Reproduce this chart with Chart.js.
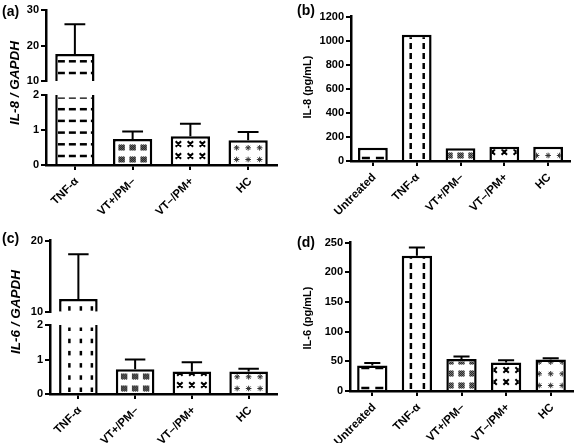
<!DOCTYPE html>
<html>
<head>
<meta charset="utf-8">
<script src="https://cdn.jsdelivr.net/npm/chart.js@4.4.1/dist/chart.umd.min.js"></script>
<style>
  body { margin: 0; background: #fff; }
  #wrap { position: relative; width: 576px; height: 443px; overflow: hidden; }
  canvas { position: absolute; }
  .tag { position: absolute; font: bold 14px "Liberation Sans", Arial, sans-serif; color: #000; line-height: 16px; }
  .xlab { position: absolute; font: bold 11.5px "Liberation Sans", Arial, sans-serif; color: #000; line-height: 14px;
          white-space: nowrap; transform-origin: 100% 50%; transform: rotate(-45deg); }
</style>
</head>
<body>
<div id="wrap">
  <canvas id="chartA" width="290" height="222" style="left:0;top:0"></canvas>
  <canvas id="chartB" width="286" height="222" style="left:290px;top:0"></canvas>
  <canvas id="chartC" width="290" height="221" style="left:0;top:222px"></canvas>
  <canvas id="chartD" width="286" height="221" style="left:290px;top:222px"></canvas>
  <div class="tag" style="left:2px;top:3px">(a)</div>
  <div class="tag" style="left:297px;top:2px">(b)</div>
  <div class="tag" style="left:2px;top:230px">(c)</div>
  <div class="tag" style="left:297px;top:234px">(d)</div>
</div>
<script>
// categories
const qpcrCats = ['TNF-α', 'VT+/PM–', 'VT–/PM+', 'HC'];
const elisaCats = ['Untreated', 'TNF-α', 'VT+/PM–', 'VT–/PM+', 'HC'];

// (a) IL-8 / GAPDH
const il8Mrna = [17.6, 0.74, 0.82, 0.71];
const il8MrnaErr = [26, 0.96, 1.18, 0.94];
const il8MrnaTicksLow = [0, 1, 2];
const il8MrnaTicksHigh = [10, 20, 30];

// (b) IL-8 pg/mL
const il8Protein = [111, 1050, 105, 119, 119];
const il8ProteinTicks = [0, 200, 400, 600, 800, 1000, 1200];

// (c) IL-6 / GAPDH
const il6Mrna = [11.8, 0.72, 0.65, 0.65];
const il6MrnaErr = [18.1, 1.0, 0.92, 0.73];
const il6MrnaTicksLow = [0, 1, 2];
const il6MrnaTicksHigh = [10, 20];

// (d) IL-6 pg/mL
const il6Protein = [43, 228, 54, 48, 53];
const il6ProteinErr = [47, 242, 58, 52, 55];
const il6ProteinTicks = [0, 50, 100, 150, 200, 250];

const FONT = '"Liberation Sans", Arial, sans-serif';
const tickFont = { family: FONT, size: 11, weight: 'bold' };
const BW = 2.5;

// fill marks inside a bar, anchored on the bar base
function drawMarks(ctx, kind, cx, top, bottom) {
    ctx.fillStyle = '#000';
    ctx.strokeStyle = '#000';
    if (kind === 'hdash') {
        for (let yy = bottom - 8; yy > top - 3; yy -= 11.7)
            for (let xx = cx - 17; xx < cx + 20; xx += 11) ctx.fillRect(xx, yy - 1.25, 7, 2.5);
    } else if (kind === 'hdash2') {
        for (let yy = bottom - 2; yy > top - 3; yy -= 20) {
            ctx.fillRect(cx - 11, yy - 1.25, 8, 2.5);
            ctx.fillRect(cx + 3, yy - 1.25, 8, 2.5);
        }
    } else if (kind === 'vdash') {
        [cx - 6, cx + 7].forEach(xx => {
            for (let yy = bottom - 1; yy > top; yy -= 10) ctx.fillRect(xx - 1.25, yy - 6, 2.5, 6);
        });
    } else if (kind === 'vshort') {
        [cx - 9, cx + 2.5, cx + 13.5].forEach(xx => {
            for (let yy = bottom - 1; yy > top; yy -= 12.2) ctx.fillRect(xx - 1.25, yy - 4.5, 2.5, 4.5);
        });
    } else if (kind === 'hatch') {
        for (let yy = bottom - 4.5; yy > top - 4; yy -= 12) {
            for (const xx of [cx - 11, cx, cx + 11]) {
                ctx.save();
                ctx.beginPath();
                ctx.rect(xx - 3.2, yy - 3.2, 6.4, 6.4);
                ctx.clip();
                ctx.lineWidth = 1.1;
                ctx.strokeStyle = '#222';
                ctx.beginPath();
                for (let d = -7; d <= 7; d += 2) {
                    ctx.moveTo(xx - 3.2 + d, yy + 3.2);
                    ctx.lineTo(xx + 3.2 + d, yy - 3.2);
                }
                ctx.stroke();
                ctx.restore();
            }
        }
    } else if (kind === 'cross') {
        ctx.lineWidth = 2;
        ctx.beginPath();
        for (let yy = bottom - 8; yy > top - 3; yy -= 12) {
            for (const xx of [cx - 12, cx, cx + 12]) {
                ctx.moveTo(xx - 2.7, yy - 2.7); ctx.lineTo(xx + 2.7, yy + 2.7);
                ctx.moveTo(xx + 2.7, yy - 2.7); ctx.lineTo(xx - 2.7, yy + 2.7);
            }
        }
        ctx.stroke();
    } else if (kind === 'star') {
        ctx.lineWidth = 1;
        ctx.strokeStyle = '#333';
        ctx.beginPath();
        for (let yy = bottom - 4.5; yy > top - 3; yy -= 11.7) {
            for (const xx of [cx - 11.5, cx, cx + 11.5]) {
                for (let k = 0; k < 4; k++) {
                    const a = k * Math.PI / 4;
                    ctx.moveTo(xx - 2.8 * Math.cos(a), yy - 2.8 * Math.sin(a));
                    ctx.lineTo(xx + 2.8 * Math.cos(a), yy + 2.8 * Math.sin(a));
                }
            }
        }
        ctx.stroke();
    }
}

// patterns and error bars on top of the bars
const barDecor = {
    id: 'barDecor',
    afterDatasetsDraw(chart, args, opts) {
        const ctx = chart.ctx;
        chart.data.datasets.forEach((ds, di) => {
            const meta = chart.getDatasetMeta(di);
            meta.data.forEach((bar, i) => {
                if (ds.data[i] == null) return;
                const { x, y, base, width } = bar.getProps(['x', 'y', 'base', 'width'], true);
                const top = Math.min(y, base), bottom = Math.max(y, base);
                ctx.save();
                ctx.beginPath();
                ctx.rect(x - width / 2 + BW, top + BW, width - 2 * BW, bottom - top - BW);
                ctx.clip();
                drawMarks(ctx, opts.patterns[i], x, top, bottom);
                ctx.restore();
            });
        });

        if (!opts.errs) return;
        const low = chart.scales.yLo || chart.scales.y;
        const pix = v => (chart.scales.yHi && v > opts.lowMax ? chart.scales.yHi : low).getPixelForValue(v);
        const bars = chart.getDatasetMeta(0).data;
        ctx.save();
        ctx.strokeStyle = '#000';
        ctx.lineWidth = 2;
        opts.errs.forEach((e, i) => {
            const bar = bars[i];
            const w = bar.width * 0.53;
            const y0 = pix(opts.vals[i]);
            const y1 = pix(e);
            ctx.beginPath();
            ctx.moveTo(bar.x, y0);
            ctx.lineTo(bar.x, y1);
            ctx.moveTo(bar.x - w / 2, y1);
            ctx.lineTo(bar.x + w / 2, y1);
            ctx.stroke();
        });
        ctx.restore();
    }
};

// rotated y-axis title
const sideTitle = {
    id: 'sideTitle',
    afterDraw(chart, args, o) {
        const ctx = chart.ctx;
        ctx.save();
        ctx.fillStyle = '#000';
        ctx.translate(o.x, o.y);
        ctx.rotate(-Math.PI / 2);
        ctx.font = o.font;
        ctx.textAlign = 'center';
        ctx.textBaseline = 'middle';
        ctx.fillText(o.text, 0, 0);
        ctx.restore();
    }
};

// slanted category labels as page text, placed at the x scale's tick pixels
function slantLabels(chart) {
    const cv = chart.canvas;
    const xs = chart.scales.x;
    chart.data.labels.forEach((lab, i) => {
        const d = document.createElement('div');
        d.className = 'xlab';
        d.textContent = lab;
        d.style.right = (576 - (cv.offsetLeft + xs.getPixelForTick(i) + 1)) + 'px';
        d.style.top = (cv.offsetTop + xs.top + 14 - 7) + 'px';
        document.getElementById('wrap').appendChild(d);
    });
}

function yAxis(ticksArr, axisW, extra) {
    return Object.assign({
        type: 'linear',
        position: 'left',
        min: ticksArr[0],
        max: ticksArr[ticksArr.length - 1],
        afterBuildTicks: s => { s.ticks = ticksArr.map(v => ({ value: v })); },
        afterFit: s => { s.width = axisW; },
        grid: { display: true, drawOnChartArea: false, drawTicks: true, tickLength: 5, color: '#000', lineWidth: 2 },
        border: { display: true, color: '#000', width: BW, z: 1 },
        ticks: { color: '#000', font: tickFont, padding: 2, callback: v => String(v) }
    }, extra);
}

function xAxis(h) {
    return {
        type: 'category',
        offset: true,
        afterFit: s => { s.height = h; },
        grid: { display: true, drawOnChartArea: false, offset: false, tickLength: 5, color: '#000', lineWidth: 2 },
        border: { display: true, color: '#000', width: BW, z: 1 },
        ticks: { display: false }
    };
}

const barStyle = {
    backgroundColor: '#fff',
    borderColor: '#000',
    borderSkipped: 'start',
    grouped: false,
    barPercentage: 0.85,
    categoryPercentage: 0.8
};

// two stacked y axes with a gap for the broken qPCR panels
function makeBroken(id, cats, vals, errs, lowTicks, highTicks, lay, patterns, title) {
    const lowMax = lowTicks[lowTicks.length - 1];
    const highMin = highTicks[0];
    return new Chart(document.getElementById(id), {
        type: 'bar',
        data: {
            labels: cats,
            datasets: [
                Object.assign({}, barStyle, {
                    data: vals.map(v => Math.min(v, lowMax)),
                    yAxisID: 'yLo',
                    borderWidth: c => vals[c.dataIndex] > lowMax ? { top: 0, left: BW, right: BW, bottom: 0 } : BW
                }),
                Object.assign({}, barStyle, {
                    data: vals.map(v => v > highMin ? [highMin, v] : null),
                    yAxisID: 'yHi',
                    borderWidth: BW
                })
            ]
        },
        options: {
            responsive: false,
            animation: false,
            devicePixelRatio: 1,
            layout: { padding: lay.pad },
            scales: {
                x: xAxis(lay.xH),
                yLo: yAxis(lowTicks, lay.axisW, { stack: 'brk', stackWeight: lay.lo, weight: 1 }),
                yGap: { type: 'linear', position: 'left', display: false, stack: 'brk', stackWeight: lay.gap, weight: 2 },
                yHi: yAxis(highTicks, lay.axisW, { stack: 'brk', stackWeight: lay.hi, weight: 3 })
            },
            plugins: {
                legend: { display: false },
                tooltip: { enabled: false },
                barDecor: { patterns, errs, vals, lowMax },
                sideTitle: title
            }
        },
        plugins: [barDecor, sideTitle]
    });
}

function makeSimple(id, cats, vals, errs, ticksArr, lay, patterns, title) {
    return new Chart(document.getElementById(id), {
        type: 'bar',
        data: {
            labels: cats,
            datasets: [Object.assign({}, barStyle, { data: vals, borderWidth: BW })]
        },
        options: {
            responsive: false,
            animation: false,
            devicePixelRatio: 1,
            layout: { padding: lay.pad },
            scales: {
                x: xAxis(lay.xH),
                y: yAxis(ticksArr, lay.axisW, {})
            },
            plugins: {
                legend: { display: false },
                tooltip: { enabled: false },
                barDecor: { patterns, errs, vals, lowMax: Infinity },
                sideTitle: title
            }
        },
        plugins: [barDecor, sideTitle]
    });
}

const chartA = makeBroken('chartA', qpcrCats, il8Mrna, il8MrnaErr, il8MrnaTicksLow, il8MrnaTicksHigh,
    { pad: { top: 10, right: 13, left: 0, bottom: 0 }, axisW: 46, xH: 57, hi: 71, gap: 14, lo: 70 },
    ['hdash', 'hatch', 'cross', 'star'],
    { text: 'IL-8 / GAPDH', x: 15, y: 83, font: 'italic bold 13.5px ' + FONT });

const chartB = makeSimple('chartB', elisaCats, il8Protein, null, il8ProteinTicks,
    { pad: { top: 16.7, right: 6, left: 0, bottom: 0 }, axisW: 61, xH: 61 },
    ['hdash2', 'vdash', 'hatch', 'cross', 'star'],
    { text: 'IL-8 (pg/mL)', x: 18, y: 87, font: 'bold 11px ' + FONT });

const chartC = makeBroken('chartC', qpcrCats, il6Mrna, il6MrnaErr, il6MrnaTicksLow, il6MrnaTicksHigh,
    { pad: { top: 18.7, right: 13, left: 0, bottom: 0 }, axisW: 50, xH: 49, hi: 71, gap: 13.3, lo: 69 },
    ['vshort', 'hatch', 'cross', 'star'],
    { text: 'IL-6 / GAPDH', x: 16, y: 90, font: 'italic bold 13.5px ' + FONT });

const chartD = makeSimple('chartD', elisaCats, il6Protein, il6ProteinErr, il6ProteinTicks,
    { pad: { top: 20.7, right: 3, left: 0, bottom: 0 }, axisW: 60, xH: 52 },
    ['hdash2', 'vdash', 'hatch', 'cross', 'star'],
    { text: 'IL-6 (pg/mL)', x: 18, y: 96, font: 'bold 11px ' + FONT });

[chartA, chartB, chartC, chartD].forEach(slantLabels);
</script>
</body>
</html>
